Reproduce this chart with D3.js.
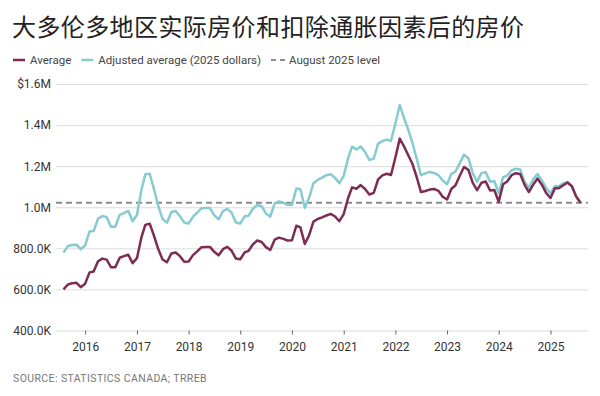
<!DOCTYPE html>
<html>
<head>
<meta charset="utf-8">
<script src="https://cdn.jsdelivr.net/npm/d3@7"></script>
<style>
  body { margin: 0; background: #fff; }
  svg text { font-family: Roboto, "Noto Sans", sans-serif; }
</style>
</head>
<body>
<div id="chart"></div>
<script>
  // monthly, Aug 2015 - Aug 2025, thousands of dollars
  var startMonth = new Date(2015, 7, 1);

  var average = [
    600, 624, 630, 632, 611,
    628, 683, 687, 737, 750, 745, 708, 708, 754, 762, 769, 728,
    752, 852, 914, 920, 862, 795, 746, 732, 775, 780, 762, 735,
    736, 767, 784, 805, 806, 807, 783, 766, 796, 807, 788, 750,
    747, 780, 788, 820, 838, 831, 806, 792, 842, 852, 846, 838,
    839, 910, 902, 821, 863, 930, 943, 951, 960, 968, 955, 932,
    967, 1045, 1097, 1090, 1108, 1089, 1062, 1070, 1136, 1155, 1163, 1157,
    1242, 1334, 1299, 1254, 1212, 1146, 1074, 1079, 1086, 1089, 1080, 1051,
    1038, 1090, 1106, 1153, 1196, 1182, 1120, 1083, 1119, 1125, 1082, 1084,
    1026, 1112, 1125, 1156, 1166, 1162, 1110, 1074, 1110, 1140, 1110, 1070,
    1045, 1092, 1093, 1107, 1120, 1102, 1053, 1022
  ];

  var adjusted = [
    779, 811, 816, 818, 795,
    814, 882, 884, 945, 957, 952, 905, 905, 963, 971, 983, 932,
    962, 1083, 1160, 1163, 1089, 1005, 943, 925, 977, 982, 956, 926,
    921, 954, 972, 995, 996, 996, 961, 941, 981, 992, 973, 926,
    921, 956, 959, 994, 1011, 1005, 970, 954, 1019, 1028, 1022, 1012,
    1011, 1091, 1088, 997, 1045, 1117, 1133, 1144, 1156, 1161, 1143, 1117,
    1153, 1239, 1295, 1281, 1296, 1269, 1230, 1237, 1310, 1322, 1329, 1324,
    1408, 1498, 1438, 1379, 1315, 1235, 1156, 1165, 1172, 1167, 1156, 1131,
    1112, 1163, 1173, 1215, 1256, 1239, 1167, 1124, 1166, 1171, 1124, 1128,
    1068, 1146, 1154, 1180, 1187, 1184, 1126, 1094, 1136, 1162, 1131, 1094,
    1068, 1104, 1102, 1117, 1123, 1104, 1052, 1022
  ];

  var augustLevel = 1022;

  var yTicks = [400, 600, 800, 1000, 1200, 1400, 1600];
  var yTickLabels = ["400.0K", "600.0K", "800.0K", "1.0M", "1.2M", "1.4M", "$1.6M"];
  var xTickYears = [2016, 2017, 2018, 2019, 2020, 2021, 2022, 2023, 2024, 2025];

  var title = "大多伦多地区实际房价和扣除通胀因素后的房价";
  var legendItems = [
    {label: "Average", color: "#7d2d52", dash: null},
    {label: "Adjusted average (2025 dollars)", color: "#86cbd0", dash: null},
    {label: "August 2025 level", color: "#8c8c8c", dash: "5,4"}
  ];
  var source = "SOURCE: STATISTICS CANADA; TRREB";

  var width = 600, height = 396;

  var svg = d3.select("#chart")
              .append("svg")
              .attr("width", width)
              .attr("height", height);

  function monthDate(i) {
    return new Date(startMonth.getFullYear(), startMonth.getMonth() + i, 1);
  }

  var x = d3.scaleTime()
            .domain([monthDate(0), monthDate(average.length - 1)])
            .range([63.5, 580.5]);

  var y = d3.scaleLinear()
            .domain([400, 1600])
            .range([330.5, 84]);

  // title
  svg.append("text")
     .attr("x", 12)
     .attr("y", 36)
     .attr("fill", "#222")
     .style("font-family", "'Noto Sans CJK SC', sans-serif")
     .style("font-size", "24px")
     .style("font-weight", "400")
     .style("letter-spacing", "0.4px")
     .text(title);

  // legend
  var legend = svg.append("g").attr("transform", "translate(13,60)");
  var lx = 0;
  legendItems.forEach(function(d) {
    if (d.dash) {
      legend.append("line")
            .attr("x1", lx).attr("x2", lx + 14)
            .attr("y1", 0).attr("y2", 0)
            .attr("stroke", d.color)
            .attr("stroke-width", 2)
            .attr("stroke-dasharray", d.dash);
      lx += 18;
    } else {
      legend.append("line")
            .attr("x1", lx).attr("x2", lx + 12)
            .attr("y1", 0).attr("y2", 0)
            .attr("stroke", d.color)
            .attr("stroke-width", 2.5);
      lx += 17;
    }
    var t = legend.append("text")
                  .attr("x", lx)
                  .attr("y", 4)
                  .attr("fill", "#444")
                  .style("font-size", "11.5px")
                  .text(d.label);
    lx += t.node().getComputedTextLength() + 10;
  });

  // grid + y labels
  var yAxis = d3.axisLeft(y)
                .tickValues(yTicks)
                .tickSize(-(588 - 56))
                .tickPadding(5)
                .tickFormat(function(d, i) { return yTickLabels[i]; });

  var gy = svg.append("g")
              .attr("transform", "translate(56,0)")
              .call(yAxis);
  gy.select(".domain").remove();
  gy.selectAll(".tick line").attr("stroke", "#dcdcdc").attr("stroke-width", 1);
  gy.selectAll(".tick text")
    .attr("fill", "#333")
    .style("font-size", "12px");

  // x axis
  var xAxis = d3.axisBottom(x)
                .tickValues(xTickYears.map(function(yr) { return new Date(yr, 0, 1); }))
                .tickSize(4)
                .tickPadding(8)
                .tickFormat(d3.timeFormat("%Y"));

  var gx = svg.append("g")
              .attr("transform", "translate(0," + y(400) + ")")
              .call(xAxis);
  gx.select(".domain").remove();
  gx.selectAll(".tick line").attr("stroke", "#666");
  gx.selectAll(".tick text")
    .attr("fill", "#333")
    .style("font-size", "12px");

  // august 2025 reference level
  svg.append("line")
     .attr("x1", 56).attr("x2", 588)
     .attr("y1", y(augustLevel)).attr("y2", y(augustLevel))
     .attr("stroke", "#8c8c8c")
     .attr("stroke-width", 2)
     .attr("stroke-dasharray", "6,4");

  var line = d3.line()
               .x(function(d, i) { return x(monthDate(i)); })
               .y(function(d) { return y(d); });

  svg.append("path")
     .datum(adjusted)
     .attr("fill", "none")
     .attr("stroke", legendItems[1].color)
     .attr("stroke-width", 2.5)
     .attr("stroke-linejoin", "round")
     .attr("d", line);

  svg.append("path")
     .datum(average)
     .attr("fill", "none")
     .attr("stroke", legendItems[0].color)
     .attr("stroke-width", 2.5)
     .attr("stroke-linejoin", "round")
     .attr("d", line);

  // source
  svg.append("text")
     .attr("x", 13)
     .attr("y", 382)
     .attr("fill", "#777")
     .style("font-size", "10.5px")
     .style("letter-spacing", "0.4px")
     .text(source);
</script>
</body>
</html>
